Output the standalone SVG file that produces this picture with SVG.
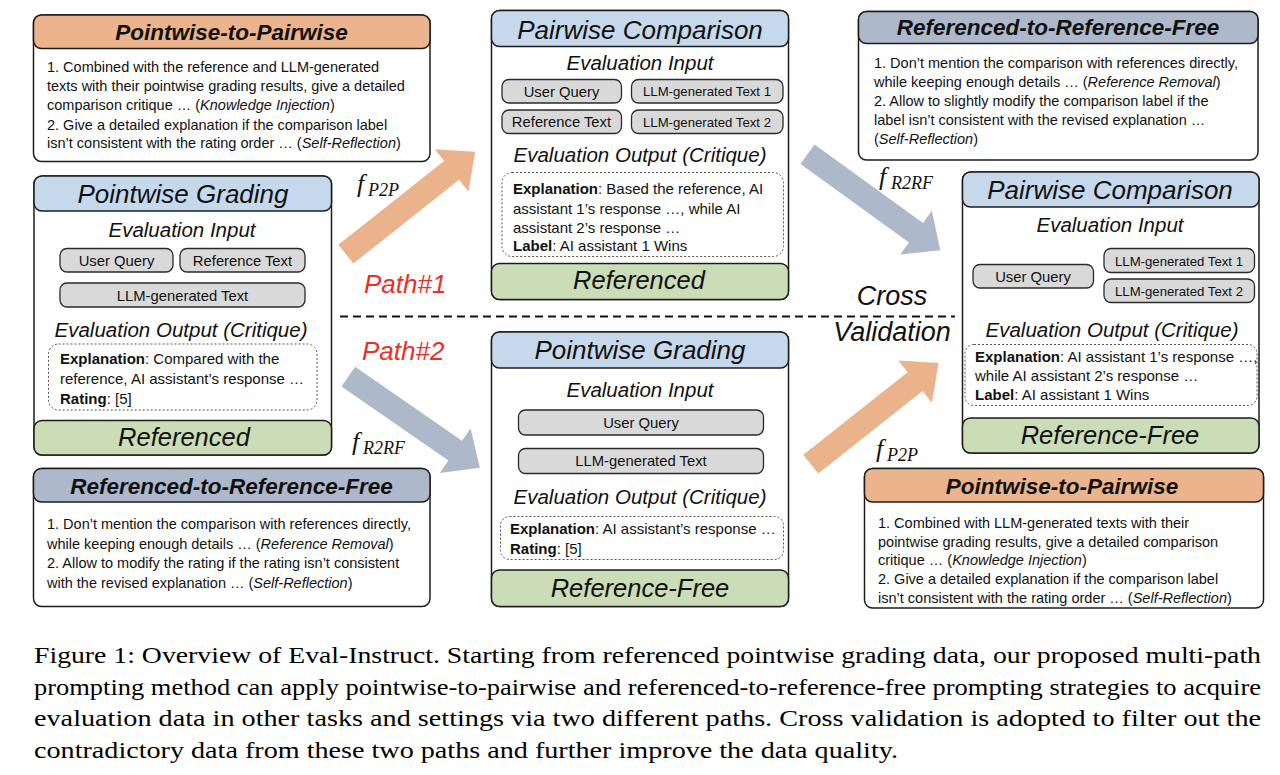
<svg xmlns="http://www.w3.org/2000/svg" width="1280" height="775" viewBox="0 0 1280 775">
  <style>
    .card { fill: #ffffff; stroke: #1c1c1c; stroke-width: 1.5; }
    .hd-blue { fill: #C5D8EC; stroke: #1c1c1c; stroke-width: 1.5; }
    .hd-green { fill: #CADDB7; stroke: #1c1c1c; stroke-width: 1.5; }
    .hd-orange { fill: #EBB48C; stroke: #1c1c1c; stroke-width: 1.5; }
    .hd-gray { fill: #ADB9CA; stroke: #1c1c1c; stroke-width: 1.5; }
    .pill { fill: #D9D9D9; stroke: #2a2a2a; stroke-width: 1.3; }
    .crit { fill: #ffffff; stroke: #555555; stroke-width: 1; stroke-dasharray: 2 2; }
    text { font-family: "Liberation Sans", Arial, sans-serif; fill: #111111; }
    .title { font-size: 26px; font-style: italic; text-anchor: middle; }
    .setting { font-size: 25.5px; font-style: italic; text-anchor: middle; }
    .section { font-size: 20.5px; font-style: italic; text-anchor: middle; }
    .pt { font-size: 14.8px; text-anchor: middle; }
    .pt-s { font-size: 13.2px; text-anchor: middle; }
    .body { font-size: 15px; }
    .strat { font-size: 22.5px; font-style: italic; font-weight: bold; text-anchor: middle; }
    .rule { font-size: 14.5px; }
    .it { font-style: italic; }
    .b { font-weight: bold; }
    .path { font-size: 26px; font-style: italic; fill: #E8302A; }
    .fn { font-family: "Liberation Serif", "Times New Roman", serif; font-style: italic; }
    .cv { font-size: 27px; font-style: italic; text-anchor: middle; }
    .cap { font-family: "Liberation Serif", "Times New Roman", serif; font-size: 24px; fill: #000000; }
  </style>

  <!-- connectors: block arrows, the path divider and their labels -->
  <g id="connectors">
    <line x1="340" y1="316.5" x2="955" y2="316.5" stroke="#111" stroke-width="1.8" stroke-dasharray="8 5"/>
    <polygon fill="#EBB38C" points="338.4,244.8 444.1,161.0 434.8,149.2 475.2,151.7 468.4,191.6 459.1,179.8 353.3,263.6"/>
    <polygon fill="#ADB8C8" points="355.1,366.8 462.0,440.8 470.6,428.5 479.8,467.7 439.8,472.9 448.4,460.6 341.5,386.6"/>
    <polygon fill="#ADB8C8" points="814.5,144.5 923.0,223.0 931.8,210.8 940.3,250.3 900.2,254.6 909.0,242.4 800.5,163.9"/>
    <polygon fill="#EBB38C" points="803.3,454.8 907.6,372.2 898.3,360.4 938.6,363.0 931.9,402.8 922.6,391.0 818.3,473.6"/>

    <text class="fn" x="357" y="192" font-size="26">f</text>
    <text class="fn" x="368" y="196" font-size="18">P2P</text>
    <text class="fn" x="352" y="450" font-size="26">f</text>
    <text class="fn" x="363" y="454" font-size="18">R2RF</text>
    <text class="fn" x="879" y="185" font-size="26">f</text>
    <text class="fn" x="891" y="189" font-size="18">R2RF</text>
    <text class="fn" x="876" y="457" font-size="26">f</text>
    <text class="fn" x="887" y="461" font-size="18">P2P</text>

    <text class="path" x="364" y="293">Path#1</text>
    <text class="path" x="362" y="360">Path#2</text>
    <text class="cv" x="892" y="305">Cross</text>
    <text class="cv" x="892" y="341">Validation</text>
  </g>

  <!-- strategy: pointwise-to-pairwise (path 1) -->
  <g id="p2p-top">
    <rect class="card" x="33.5" y="15" width="396.5" height="146.5" rx="8"/>
    <rect class="hd-orange" x="33.5" y="15" width="396.5" height="33.5" rx="8"/>
    <text class="strat" x="231.5" y="40">Pointwise-to-Pairwise</text>
    <text class="rule" x="47" y="72">1. Combined with the reference and LLM-generated</text>
    <text class="rule" x="47" y="91">texts with their pointwise grading results, give a detailed</text>
    <text class="rule" x="47" y="110">comparison critique … (<tspan class="it">Knowledge Injection</tspan>)</text>
    <text class="rule" x="47" y="129.5">2. Give a detailed explanation if the comparison label</text>
    <text class="rule" x="47" y="148">isn’t consistent with the rating order … (<tspan class="it">Self-Reflection</tspan>)</text>
  </g>

  <!-- source data: referenced pointwise grading -->
  <g id="pg-referenced">
    <rect class="card" x="34" y="176" width="297.5" height="279" rx="8"/>
    <rect class="hd-blue" x="34" y="176" width="297.5" height="35" rx="8"/>
    <text class="title" x="183" y="203">Pointwise Grading</text>
    <text class="section" x="182" y="237">Evaluation Input</text>
    <rect class="pill" x="60" y="248.5" width="113" height="23.5" rx="7"/>
    <text class="pt" x="116.5" y="265.5">User Query</text>
    <rect class="pill" x="180" y="248.5" width="125" height="23.5" rx="7"/>
    <text class="pt" x="242.5" y="265.5">Reference Text</text>
    <rect class="pill" x="60" y="283" width="245" height="24" rx="7"/>
    <text class="pt" x="182.5" y="300.5">LLM-generated Text</text>
    <text class="section" x="181" y="337">Evaluation Output (Critique)</text>
    <rect class="crit" x="48.5" y="344" width="268.5" height="66" rx="10"/>
    <text class="body" x="60" y="363.5"><tspan class="b">Explanation</tspan>: Compared with the</text>
    <text class="body" x="60" y="384">reference, AI assistant’s response …</text>
    <text class="body" x="60" y="403.5"><tspan class="b">Rating</tspan>: [5]</text>
    <rect class="hd-green" x="34" y="420.5" width="297.5" height="34.5" rx="8"/>
    <text class="setting" x="184" y="446">Referenced</text>
  </g>

  <!-- strategy: referenced-to-reference-free (path 2) -->
  <g id="r2rf-bottom">
    <rect class="card" x="33.5" y="468.5" width="396.5" height="138" rx="8"/>
    <rect class="hd-gray" x="33.5" y="468.5" width="396.5" height="33.5" rx="8"/>
    <text class="strat" x="231.5" y="494">Referenced-to-Reference-Free</text>
    <text class="rule" x="47" y="529">1. Don’t mention the comparison with references directly,</text>
    <text class="rule" x="47" y="548.5">while keeping enough details … (<tspan class="it">Reference Removal</tspan>)</text>
    <text class="rule" x="47" y="568">2. Allow to modify the rating if the rating isn’t consistent</text>
    <text class="rule" x="47" y="587.5">with the revised explanation … (<tspan class="it">Self-Reflection</tspan>)</text>
  </g>

  <!-- path 1 result: referenced pairwise comparison -->
  <g id="pc-referenced">
    <rect class="card" x="491.5" y="10.5" width="297" height="289" rx="8"/>
    <rect class="hd-blue" x="491.5" y="10.5" width="297" height="36" rx="8"/>
    <text class="title" x="640" y="39">Pairwise Comparison</text>
    <text class="section" x="640" y="70">Evaluation Input</text>
    <rect class="pill" x="502" y="79.5" width="119.5" height="23.5" rx="7"/>
    <text class="pt" x="561.5" y="96.5">User Query</text>
    <rect class="pill" x="631.5" y="79.5" width="151.5" height="23.5" rx="7"/>
    <text class="pt-s" x="707" y="96">LLM-generated Text 1</text>
    <rect class="pill" x="502" y="110" width="119.5" height="23.5" rx="7"/>
    <text class="pt" x="561.5" y="127">Reference Text</text>
    <rect class="pill" x="631.5" y="110" width="151.5" height="23.5" rx="7"/>
    <text class="pt-s" x="707" y="126.5">LLM-generated Text 2</text>
    <text class="section" x="640" y="162">Evaluation Output (Critique)</text>
    <rect class="crit" x="502" y="172.5" width="281.5" height="84" rx="10"/>
    <text class="body" x="513" y="194"><tspan class="b">Explanation</tspan>: Based the reference, AI</text>
    <text class="body" x="513" y="213.5">assistant 1’s response …, while AI</text>
    <text class="body" x="513" y="232.5">assistant 2’s response …</text>
    <text class="body" x="513" y="251"><tspan class="b">Label</tspan>: AI assistant 1 Wins</text>
    <rect class="hd-green" x="491.5" y="263.5" width="297" height="36" rx="8"/>
    <text class="setting" x="639" y="289">Referenced</text>
  </g>

  <!-- path 2 result: reference-free pointwise grading -->
  <g id="pg-reference-free">
    <rect class="card" x="491.5" y="332" width="297" height="274.5" rx="8"/>
    <rect class="hd-blue" x="491.5" y="332" width="297" height="36" rx="8"/>
    <text class="title" x="640" y="359">Pointwise Grading</text>
    <text class="section" x="640" y="397">Evaluation Input</text>
    <rect class="pill" x="518.5" y="410" width="245" height="25" rx="7"/>
    <text class="pt" x="641" y="427.5">User Query</text>
    <rect class="pill" x="518.5" y="448.5" width="245" height="25" rx="7"/>
    <text class="pt" x="641" y="466">LLM-generated Text</text>
    <text class="section" x="640" y="503.5">Evaluation Output (Critique)</text>
    <rect class="crit" x="500.5" y="516.5" width="283" height="43" rx="9"/>
    <text class="body" x="510" y="534"><tspan class="b">Explanation</tspan>: AI assistant’s response …</text>
    <text class="body" x="510" y="553.5"><tspan class="b">Rating</tspan>: [5]</text>
    <rect class="hd-green" x="491.5" y="570" width="297" height="36.5" rx="8"/>
    <text class="setting" x="640" y="597">Reference-Free</text>
  </g>

  <!-- strategy: referenced-to-reference-free (path 1) -->
  <g id="r2rf-top">
    <rect class="card" x="858.5" y="11.5" width="399.5" height="148.5" rx="8"/>
    <rect class="hd-gray" x="858.5" y="11.5" width="399.5" height="32" rx="8"/>
    <text class="strat" x="1058" y="35">Referenced-to-Reference-Free</text>
    <text class="rule" x="874" y="67.5">1. Don’t mention the comparison with references directly,</text>
    <text class="rule" x="874" y="86.5">while keeping enough details … (<tspan class="it">Reference Removal</tspan>)</text>
    <text class="rule" x="874" y="105.5">2. Allow to slightly modify the comparison label if the</text>
    <text class="rule" x="874" y="124.5">label isn’t consistent with the revised explanation …</text>
    <text class="rule" x="874" y="143.5">(<tspan class="it">Self-Reflection</tspan>)</text>
  </g>

  <!-- both paths end here: reference-free pairwise comparison -->
  <g id="pc-reference-free">
    <rect class="card" x="962.5" y="172" width="296.5" height="281" rx="8"/>
    <rect class="hd-blue" x="962.5" y="172" width="296.5" height="35" rx="8"/>
    <text class="title" x="1110" y="199">Pairwise Comparison</text>
    <text class="section" x="1110" y="232">Evaluation Input</text>
    <rect class="pill" x="973" y="264.5" width="120.5" height="23.5" rx="7"/>
    <text class="pt" x="1033" y="281.5">User Query</text>
    <rect class="pill" x="1104" y="248.5" width="150.5" height="24" rx="7"/>
    <text class="pt-s" x="1179" y="265.5">LLM-generated Text 1</text>
    <rect class="pill" x="1104" y="279" width="150.5" height="23.5" rx="7"/>
    <text class="pt-s" x="1179" y="295.5">LLM-generated Text 2</text>
    <text class="section" x="1112" y="337">Evaluation Output (Critique)</text>
    <rect class="crit" x="965" y="344.5" width="292" height="61" rx="9"/>
    <text class="body" x="975" y="361.5"><tspan class="b">Explanation</tspan>: AI assistant 1’s response …,</text>
    <text class="body" x="975" y="381">while AI assistant 2’s response …</text>
    <text class="body" x="975" y="400"><tspan class="b">Label</tspan>: AI assistant 1 Wins</text>
    <rect class="hd-green" x="962.5" y="418" width="296.5" height="35" rx="8"/>
    <text class="setting" x="1110" y="443.5">Reference-Free</text>
  </g>

  <!-- strategy: pointwise-to-pairwise (path 2) -->
  <g id="p2p-bottom">
    <rect class="card" x="864.5" y="468.5" width="399" height="139.5" rx="8"/>
    <rect class="hd-orange" x="864.5" y="468.5" width="399" height="33.5" rx="8"/>
    <text class="strat" x="1062" y="494">Pointwise-to-Pairwise</text>
    <text class="rule" x="878" y="527.5">1. Combined with LLM-generated texts with their</text>
    <text class="rule" x="878" y="546.5">pointwise grading results, give a detailed comparison</text>
    <text class="rule" x="878" y="565">critique … (<tspan class="it">Knowledge Injection</tspan>)</text>
    <text class="rule" x="878" y="584">2. Give a detailed explanation if the comparison label</text>
    <text class="rule" x="878" y="602.5">isn’t consistent with the rating order … (<tspan class="it">Self-Reflection</tspan>)</text>
  </g>

  <!-- figure caption, justified by stretching each full line -->
  <g id="caption">
    <text class="cap" x="34" y="663" textLength="1227" lengthAdjust="spacingAndGlyphs">Figure 1: Overview of Eval-Instruct. Starting from referenced pointwise grading data, our proposed multi-path</text>
    <text class="cap" x="34" y="694.5" textLength="1227" lengthAdjust="spacingAndGlyphs">prompting method can apply pointwise-to-pairwise and referenced-to-reference-free prompting strategies to acquire</text>
    <text class="cap" x="34" y="726" textLength="1227" lengthAdjust="spacingAndGlyphs">evaluation data in other tasks and settings via two different paths. Cross validation is adopted to filter out the</text>
    <text class="cap" x="34" y="757.5" textLength="864" lengthAdjust="spacingAndGlyphs">contradictory data from these two paths and further improve the data quality.</text>
  </g>
</svg>
